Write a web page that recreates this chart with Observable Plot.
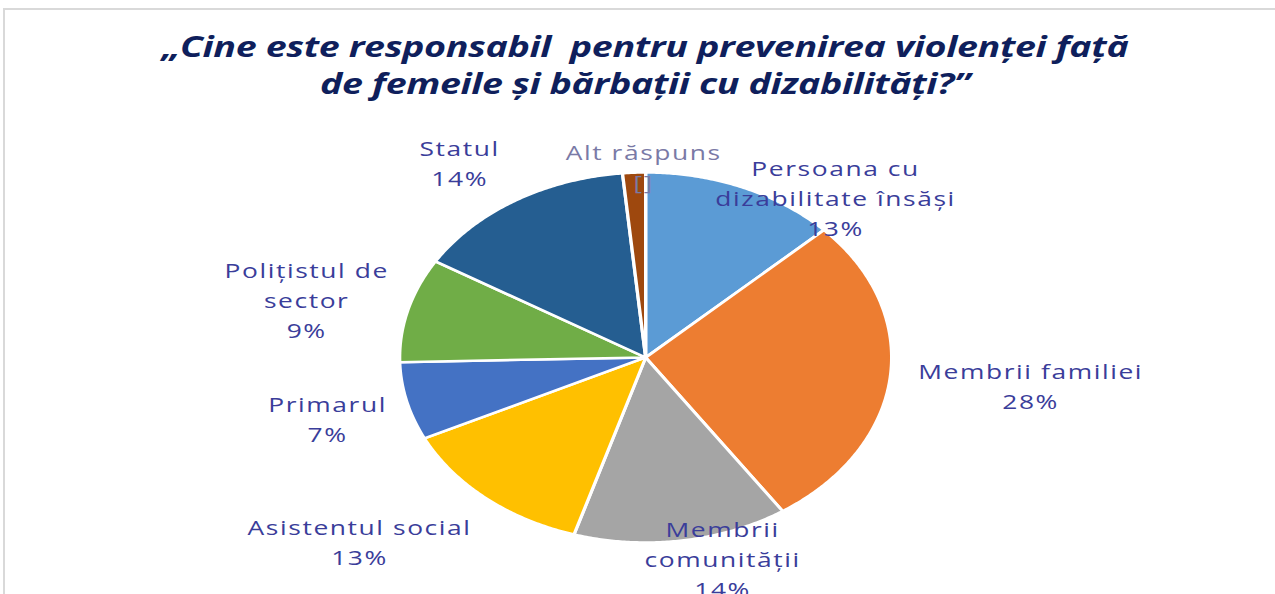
<!DOCTYPE html>
<html>
<head>
<meta charset="utf-8">
<script src="https://cdn.jsdelivr.net/npm/d3@7"></script>
<script src="https://cdn.jsdelivr.net/npm/@observablehq/plot@0.6"></script>
<style>
  html, body { margin: 0; padding: 0; background: #fff; overflow: hidden; }
  #wrap { position: relative; width: 1275px; height: 594px; overflow: hidden; background: #fff; }
  #frame { position: absolute; left: 3px; top: 8px; right: -10px; bottom: -10px;
           border-top: 2px solid #d9d9d9; border-left: 2px solid #d9d9d9; }
  #title { position: absolute; left: 645px; top: 28px; transform: translateX(-50%) scaleX(1.345);
           white-space: nowrap; text-align: center; font-family: "Open Sans", sans-serif;
           font-weight: 700; font-style: italic; font-size: 28px; line-height: 37px;
           color: #0f1f5c; letter-spacing: -0.3px; }
  #chart { position: absolute; left: 0; top: 120px; transform: scaleX(1.32); transform-origin: 0 0; }
  #chart svg text { letter-spacing: 1.2px; }
</style>
</head>
<body>
<div id="wrap">
  <div id="frame"></div>
  <div id="title">„Cine este responsabil&nbsp; pentru prevenirea violenței față<br>de femeile și bărbații cu dizabilități?”</div>
  <div id="chart"></div>
</div>
<script>
// ---- data ----
const categories = [
  "Persoana cu dizabilitate însăși",
  "Membrii familiei",
  "Membrii comunității",
  "Asistentul social",
  "Primarul",
  "Polițistul de sector",
  "Statul",
  "Alt răspuns"
];
const shares = [12.9, 27.7, 14.1, 13.1, 6.8, 9.1, 14.8, 1.5];
const labelNames = [
  "Persoana cu\ndizabilitate însăși",
  "Membrii familiei",
  "Membrii\ncomunității",
  "Asistentul social",
  "Primarul",
  "Polițistul de\nsector",
  "Statul",
  "Alt răspuns"
];
const pctLabels = ["13%", "28%", "14%", "13%", "7%", "9%", "14%", "[]"];
const colors = ["#5b9bd5", "#ed7d31", "#a5a5a5", "#ffc000", "#4472c4", "#70ad47", "#255e91", "#9e480e"];
// label anchor positions in pie-unit coordinates (layout)
const labelAt = [[0.772, 0.870], [1.565, -0.146], [0.313, -1.081], [-1.163, -0.989],
                 [-1.293, -0.324], [-1.378, 0.319], [-0.756, 1.059], [-0.008, 1.038]];

// ---- build slices ----
const arcs = d3.pie().sort(null).value(d => d)(shares);
const slicePts = [];
arcs.forEach((a, i) => {
  const name = categories[i];
  slicePts.push({name, x: 0, y: 0});
  const n = Math.max(4, Math.ceil((a.endAngle - a.startAngle) / (Math.PI / 360)));
  for (let k = 0; k <= n; k++) {
    const t = a.startAngle + (a.endAngle - a.startAngle) * k / n;
    slicePts.push({name, x: Math.sin(t), y: Math.cos(t)});
  }
  slicePts.push({name, x: 0, y: 0});
});
const labels = categories.map((c, i) => ({
  name: c, text: labelNames[i] + "\n" + pctLabels[i], x: labelAt[i][0], y: labelAt[i][1]
}));

const sx = 1.32;                 // horizontal stretch of the whole chart area
const W = 1275 / sx;
const cx = 645 / sx, cy = 237, r = 185;
const chart = Plot.plot({
  width: W,
  height: 474,
  margin: 0,
  x: {domain: [-1, 1], range: [cx - r * 246 / 185 / sx, cx + r * 246 / 185 / sx], axis: null},
  y: {domain: [-1, 1], range: [cy + r, cy - r], axis: null},
  color: {domain: categories, range: colors},
  style: {background: "transparent", fontFamily: "'Open Sans', sans-serif", overflow: "visible"},
  marks: [
    Plot.line(slicePts, {x: "x", y: "y", z: "name", fill: "name", stroke: "white", strokeWidth: 2.5, strokeLinejoin: "round", curve: "linear"}),
    Plot.text(labels.filter(d => d.name !== "Alt răspuns"), {x: "x", y: "y", text: "text", fill: "#3a3d9a", fontSize: 20, lineHeight: 1.5}),
    Plot.text(labels.filter(d => d.name === "Alt răspuns"), {x: "x", y: "y", text: "text", fill: "#7a7aa6", fontSize: 20, lineHeight: 1.5})
  ]
});
document.getElementById("chart").appendChild(chart);
</script>
</body>
</html>
